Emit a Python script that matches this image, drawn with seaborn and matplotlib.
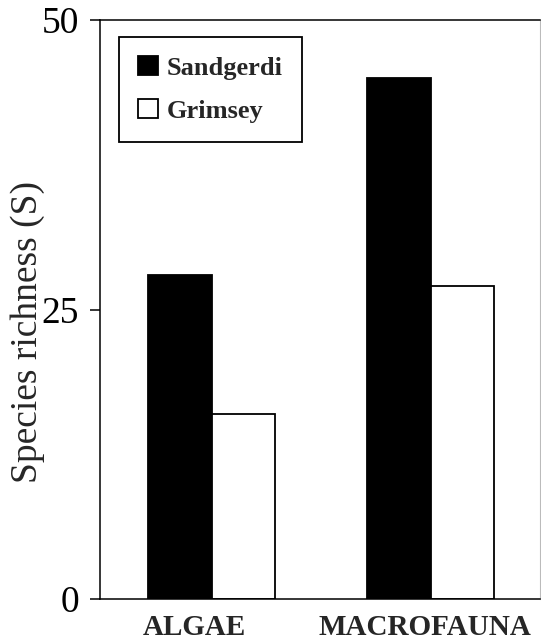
import matplotlib
matplotlib.use("Agg")
import matplotlib.pyplot as plt
import matplotlib.transforms as mtransforms
import seaborn as sns
import pandas as pd

# Species richness per group and site
groups = ["ALGAE", "MACROFAUNA"]
sites = ["Sandgerdi", "Grimsey"]
sandgerdi = [28, 45]
grimsey = [16, 27]
y_ticks = [0, 25, 50]

df = pd.DataFrame({
    "group": groups * 2,
    "site": [sites[0]] * len(groups) + [sites[1]] * len(groups),
    "richness": sandgerdi + grimsey,
})

sns.set_theme(style="white")
plt.rcParams["font.family"] = ["Liberation Serif", "DejaVu Serif"]

fig = plt.figure(figsize=(5.41, 6.44), dpi=100)
ax = fig.add_axes([100 / 541, 45 / 644, 440 / 541, 579 / 644])

sns.barplot(
    data=df, x="group", y="richness", hue="site", order=groups, hue_order=sites,
    palette=["black", "white"], saturation=1, edgecolor="black", linewidth=1.3,
    width=0.58, gap=0, errorbar=None, ax=ax,
)

ax.set_xlim(-0.51, 1.5)
ax.set_ylim(0, 50)
ax.set_yticks(y_ticks)
ax.set_yticklabels([str(t) for t in y_ticks], fontsize=27)
ax.tick_params(axis="y", direction="out", length=7.2, width=1.1, pad=8,
               left=True, colors="black")
ax.tick_params(axis="x", length=0, pad=11)
# small leftward nudges of the category labels (pixels)
label_shift = [-17, -6]
for lbl, dx in zip(ax.get_xticklabels(), label_shift):
    lbl.set_fontsize(21)
    lbl.set_fontweight("bold")
    lbl.set_transform(lbl.get_transform() +
                      mtransforms.ScaledTranslation(dx / 100, 0, fig.dpi_scale_trans))

ax.set_xlabel("")
ax.set_ylabel("Species richness (S)", fontsize=27)
ax.yaxis.set_label_coords(-0.125, 0.461)

for side in ["left", "bottom", "top"]:
    ax.spines[side].set_visible(True)
    ax.spines[side].set_color("black")
    ax.spines[side].set_linewidth(1.1)
ax.spines["right"].set_visible(True)
ax.spines["right"].set_color("#bbbbbb")
ax.spines["right"].set_linewidth(0.8)

handles, labels = ax.get_legend_handles_labels()
leg = ax.legend(
    handles, labels, loc="upper left", bbox_to_anchor=(0.043, 0.971),
    frameon=True, fancybox=False, edgecolor="black", framealpha=1,
    prop={"weight": "bold", "size": 19, "family": "Liberation Serif"},
    handlelength=0.75, handleheight=0.75, handletextpad=0.35,
    labelspacing=0.72, borderpad=0.72, borderaxespad=0,
)
leg.get_frame().set_linewidth(1.3)

fig.savefig("out.png", dpi=100)
